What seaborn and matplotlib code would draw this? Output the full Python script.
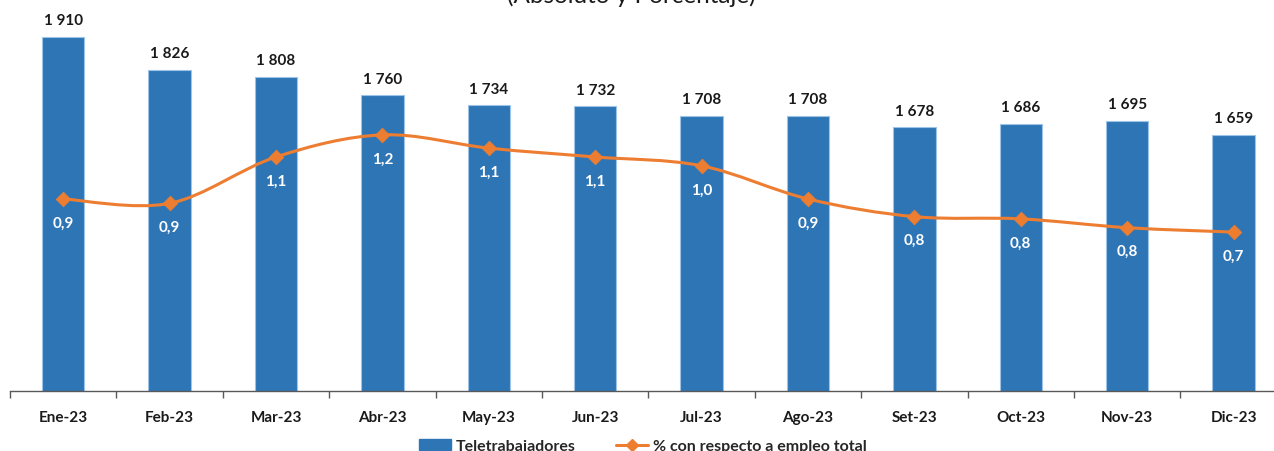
import numpy as np
import matplotlib
matplotlib.use("Agg")
import matplotlib.pyplot as plt
from matplotlib.path import Path
from matplotlib.patches import PathPatch, Patch
from matplotlib.lines import Line2D
import seaborn as sns

months = ["Ene-23", "Feb-23", "Mar-23", "Abr-23", "May-23", "Jun-23",
          "Jul-23", "Ago-23", "Set-23", "Oct-23", "Nov-23", "Dic-23"]
teletrabajadores = [1910, 1826, 1808, 1760, 1734, 1732, 1708, 1708, 1678, 1686, 1695, 1659]
pct_empleo = [0.89, 0.87, 1.08, 1.18, 1.12, 1.08, 1.04, 0.89, 0.81, 0.80, 0.76, 0.74]
title = "(Absoluto y Porcentaje)"
legend_labels = ["Teletrabajadores", "% con respecto a empleo total"]

BLUE = "#2E75B6"
ORANGE = "#ED7D31"

sns.set_theme(style="white")
plt.rcParams["font.family"] = ["Lato", "DejaVu Sans"]

W, H = 1274, 452
fig = plt.figure(figsize=(W / 100, H / 100), dpi=100)
ax_left = 10 / W
ax_bottom = (H - 392) / H
ax_top = 10 / H
ax_width = 12 * 106.4 / W
ax = fig.add_axes([ax_left, ax_bottom, ax_width, 1 - ax_bottom - ax_top])

sns.barplot(x=months, y=teletrabajadores, color=BLUE, width=0.4, ax=ax,
            saturation=1, edgecolor="#9DC3E6", linewidth=0.8)
ax.set_xlim(-0.5, len(months) - 0.5)
ymin = 1000
px_per_unit = 354 / (1910 - ymin)
ax.set_ylim(ymin, ymin + 382 / px_per_unit)
ax.set_yticks([])
ax.set_ylabel("")
ax.set_xlabel("")
for s in ["left", "right", "top"]:
    ax.spines[s].set_visible(False)
ax.spines["bottom"].set_color("#595959")
ax.spines["bottom"].set_linewidth(1)
ax.set_xticks(np.arange(len(months)))
ax.set_xticklabels(months, fontsize=11, fontweight="bold", color="#1a1a1a")
ax.set_xticks(np.arange(len(months) + 1) - 0.5, minor=True)
ax.tick_params(axis="x", which="major", length=0, pad=14)
ax.tick_params(axis="x", which="minor", length=5, width=1, color="#595959", bottom=True, direction="out")

for i, v in enumerate(teletrabajadores):
    lbl = f"{v:,}".replace(",", " ")
    ax.annotate(lbl, (i, v), xytext=(0, 7), textcoords="offset points",
                ha="center", va="bottom", fontsize=11, fontweight="bold", color="#1a1a1a")

ax2 = ax.twinx()
y2min = 0.021
ax2.set_ylim(y2min, y2min + 382 / 221)
ax2.set_yticks([])
ax2.set_ylabel("")
for s in ax2.spines.values():
    s.set_visible(False)

# smoothed curve (Catmull-Rom as cubic Bezier) through the data points
x = np.arange(len(pct_empleo), dtype=float)
y = np.array(pct_empleo, dtype=float)
P = np.column_stack([x, y])
verts = [P[0]]
codes = [Path.MOVETO]
n = len(P)
for i in range(n - 1):
    p0 = P[i - 1] if i > 0 else P[i]
    p1 = P[i]
    p2 = P[i + 1]
    p3 = P[i + 2] if i + 2 < n else P[i + 1]
    c1 = p1 + (p2 - p0) / 6
    c2 = p2 - (p3 - p1) / 6
    verts += [c1, c2, p2]
    codes += [Path.CURVE4] * 3
ax2.add_patch(PathPatch(Path(verts, codes), facecolor="none", edgecolor=ORANGE, lw=2.2, zorder=3))
sns.scatterplot(x=x, y=y, marker="D", s=55, color=ORANGE, edgecolor=ORANGE, ax=ax2, zorder=4)

for i, v in enumerate(pct_empleo):
    ax2.annotate(f"{v:.1f}".replace(".", ","), (i, v), xytext=(0, -17), textcoords="offset points",
                 ha="center", va="center", fontsize=11, fontweight="bold", color="white")

fig.text(631 / W, 1 - 3 / H, title, ha="center", va="baseline", fontsize=17.5, color="#1a1a1a")

handles = [Patch(facecolor=BLUE, edgecolor=BLUE),
           Line2D([0], [0], color=ORANGE, lw=2.2, marker="D", markersize=6)]
fig.legend(handles, legend_labels, loc="center", bbox_to_anchor=(643 / W, 1 - 447 / H),
           ncol=2, frameon=False, prop={"weight": "bold", "size": 11.5},
           handlelength=2.0, handleheight=0.7, columnspacing=2.5, handletextpad=0.3)

fig.savefig("out.png", dpi=100)
